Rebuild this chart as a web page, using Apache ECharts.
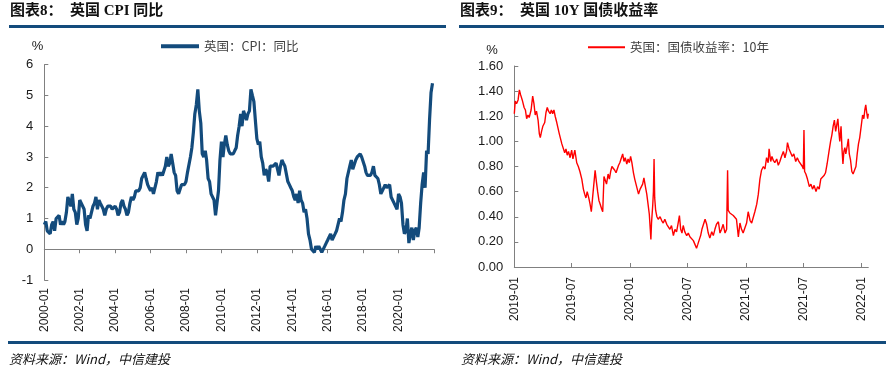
<!DOCTYPE html>
<html><head><meta charset="utf-8">
<script src="https://cdn.jsdelivr.net/npm/echarts@6/dist/echarts.min.js"></script>
<style>html,body{margin:0;padding:0;background:#fff}#c{width:893px;height:369px}</style>
</head><body><div id="c"></div>
<script>
// ---- Data: UK CPI YoY (%), monthly from 2000-01 ----
const cpiStart = [2000, 1];
const cpiValues = [
 0.8,0.9,0.6,0.6,0.5,0.8,0.9,0.6,1.0,1.0,1.1,0.8,
 0.9,0.8,0.9,1.2,1.7,1.7,1.4,1.8,1.3,1.2,0.8,1.0,
 1.6,1.5,1.5,1.3,0.8,0.6,1.1,1.0,1.0,1.4,1.5,1.7,
 1.3,1.6,1.5,1.4,1.3,1.1,1.3,1.4,1.4,1.4,1.3,1.3,
 1.4,1.3,1.1,1.2,1.5,1.6,1.4,1.3,1.1,1.2,1.5,1.7,
 1.6,1.7,1.9,1.9,1.9,2.0,2.3,2.4,2.5,2.3,2.1,2.0,
 1.9,2.0,1.8,2.0,2.2,2.5,2.4,2.5,2.4,2.4,2.7,3.0,
 2.7,2.8,3.1,2.8,2.5,2.4,1.9,1.8,1.8,2.1,2.1,2.1,
 2.2,2.5,2.5,3.0,3.3,3.8,4.4,4.7,5.2,4.5,4.1,3.1,
 3.0,3.2,2.9,2.3,2.2,1.8,1.8,1.6,1.1,1.5,1.9,2.9,
 3.5,3.0,3.4,3.7,3.4,3.2,3.1,3.1,3.1,3.2,3.3,3.7,
 4.0,4.4,4.0,4.5,4.5,4.2,4.4,4.5,5.2,5.0,4.8,4.2,
 3.6,3.4,3.5,3.0,2.8,2.4,2.6,2.5,2.2,2.7,2.7,2.7,
 2.7,2.8,2.8,2.4,2.7,2.9,2.8,2.7,2.7,2.2,2.1,2.0,
 1.9,1.7,1.6,1.8,1.5,1.9,1.6,1.5,1.2,1.3,1.0,0.5,
 0.3,0.0,0.0,-0.1,0.1,0.0,0.1,0.0,-0.1,-0.1,0.1,0.2,
 0.3,0.3,0.5,0.3,0.3,0.5,0.6,0.6,1.0,0.9,1.2,1.6,
 1.8,2.3,2.3,2.7,2.9,2.6,2.6,2.9,3.0,3.0,3.1,3.0,
 3.0,2.7,2.5,2.4,2.4,2.4,2.5,2.7,2.4,2.4,2.3,2.1,
 1.8,1.9,1.9,2.1,2.0,2.0,2.1,1.7,1.7,1.5,1.5,1.3,
 1.8,1.7,1.5,0.8,0.5,0.6,1.0,0.2,0.5,0.7,0.3,0.6,
 0.7,0.4,0.7,1.5,2.1,2.5,2.0,3.2,3.1,4.2,5.1,5.4
];
const cpiAxisRange = ['2000-01', '2022-01'];
const cpiTickLabels = ['2000-01','2002-01','2004-01','2006-01','2008-01','2010-01','2012-01','2014-01','2016-01','2018-01','2020-01'];
const cpiTickMarks = ['2000-01','2002-01','2004-01','2006-01','2008-01','2010-01','2012-01','2014-01','2016-01','2018-01','2020-01','2022-01'];

// ---- Data: UK 10Y gilt yield (%), dates as days after 2019-01-01 ----
const gyBase = [2019, 1, 1];
const gyDays = [0,3,7,12,16,20,25,31,35,39,43,47,53,58,62,66,70,75,79,82,86,90,96,100,104,108,113,117,121,125,129,134,138,142,146,150,155,159,163,167,171,176,181,185,188,191,197,202,207,213,218,222,226,230,235,239,243,247,251,255,259,263,267,271,276,279,283,287,291,296,300,304,308,312,317,321,325,329,333,338,342,346,350,355,359,363,367,371,376,380,384,388,392,397,401,405,409,413,418,422,426,429,431,433,437,439,441,443,446,450,454,
460,465,470,475,481,486,491,496,502,507,512,517,521,525,529,533,538,544,549,554,560,565,570,575,579,584,588,592,596,602,607,612,617,623,628,633,638,644,649,654,659,665,670,673,675,680,686,691,696,701,707,712,717,722,728,733,738,744,749,754,759,765,770,775,780,786,791,796,801,804,809,813,817,822,828,833,838,843,849,854,859,862,867,872,877,882,888,893,898,903,909,912,914,916,920,925,931,936,941,946,952,957,962,967,973,978,982,987,993,998,1002,1006,1010,1014,1018,1021,1024,1027,1031,1034,1037,1040,1043,1046,1051,1054,1057,1061,1065,1069,1074,1078,1082,1086,1090,1095,1099,1103,1106,1109,1112,1115,1117];
const gyValues = [1.22,1.32,1.30,1.33,1.41,1.37,1.33,1.27,1.25,1.18,1.21,1.19,1.25,1.36,1.30,1.21,1.24,1.17,1.06,1.03,1.08,1.12,1.15,1.23,1.27,1.24,1.22,1.25,1.22,1.25,1.20,1.15,1.14,1.06,1.02,0.98,0.97,0.91,0.94,0.89,0.92,0.87,0.93,0.86,0.85,0.93,0.83,0.80,0.76,0.70,0.62,0.58,0.55,0.60,0.55,0.50,0.44,0.55,0.66,0.77,0.68,0.60,0.53,0.50,0.46,0.44,0.72,0.72,0.66,0.74,0.70,0.76,0.80,0.81,0.77,0.75,0.78,0.81,0.83,0.87,0.90,0.84,0.87,0.82,0.86,0.83,0.88,0.83,0.75,0.70,0.70,0.62,0.58,0.62,0.64,0.66,0.71,0.65,0.58,0.50,0.42,0.30,0.22,0.35,0.50,0.60,0.86,0.55,0.45,0.40,0.38,
0.40,0.37,0.35,0.38,0.34,0.32,0.30,0.33,0.25,0.30,0.28,0.35,0.41,0.30,0.27,0.33,0.28,0.25,0.27,0.24,0.25,0.21,0.18,0.15,0.18,0.22,0.25,0.30,0.31,0.38,0.34,0.27,0.23,0.28,0.25,0.30,0.34,0.36,0.27,0.30,0.34,0.27,0.30,0.77,0.45,0.43,0.42,0.41,0.40,0.38,0.24,0.35,0.30,0.27,0.26,0.35,0.44,0.37,0.35,0.36,0.44,0.50,0.58,0.70,0.77,0.80,0.78,0.87,0.83,0.94,0.84,0.88,0.85,0.83,0.86,0.81,0.84,0.88,0.92,0.87,0.92,0.99,0.94,0.91,0.88,0.90,0.84,0.87,0.84,0.85,0.80,0.78,1.09,0.76,0.74,0.70,0.64,0.66,0.62,0.65,0.60,0.64,0.62,0.70,0.70,0.73,0.75,0.82,0.92,1.00,1.05,1.12,1.17,1.08,1.14,1.18,1.08,1.00,1.12,0.94,0.82,0.92,0.95,0.90,0.97,1.02,0.90,0.85,0.76,0.74,0.74,0.80,0.90,0.98,1.03,1.13,1.21,1.18,1.25,1.29,1.23,1.18,1.22];
const gyAxisRange = ['2019-01-01', '2022-01-22'];
const gyTickLabels = ['2019-01','2019-07','2020-01','2020-07','2021-01','2021-07','2022-01'];

// ---- helpers ----
function ym(s){ const p = s.split('-').map(Number); return new Date(p[0], p[1]-1, p[2]||1).getTime(); }
function fmtYM(v){ const d = new Date(v); return d.getFullYear() + '-' + String(d.getMonth()+1).padStart(2,'0'); }
const cpiData = cpiValues.map((v,i)=>[new Date(cpiStart[0], cpiStart[1]-1+i, 1).getTime(), v]);
const gyData = gyValues.map((v,i)=>[new Date(gyBase[0], gyBase[1]-1, gyBase[2]+gyDays[i]).getTime(), v]);

const AX = '#808080', LBL = '#1a1a1a', BLUE = '#134b7c';
const sans = "'Liberation Sans', Arial, 'Noto Sans CJK SC', sans-serif";
const cjk = "'Noto Sans CJK SC', 'Liberation Sans', sans-serif";
const serif = "'Liberation Serif', 'Noto Sans CJK SC', serif";

const chart = echarts.init(document.getElementById('c'), null, {renderer:'canvas'});
chart.setOption({
  animation: false,
  backgroundColor: '#fff',
  grid: [
    {left: 44.3, top: 64.7, width: 389.7, height: 215.3},
    {left: 514.3, top: 66, width: 354, height: 201}
  ],
  legend: [
    {data: ['英国：CPI：同比'], left: 156, top: 35, icon: 'rect', itemWidth: 38, itemHeight: 4, itemGap: 4,
     textStyle: {fontFamily: cjk, fontSize: 12.5, color: '#404040'}},
    {data: ['英国：国债收益率：10年'], left: 583, top: 36, icon: 'rect', itemWidth: 37, itemHeight: 2, itemGap: 4,
     textStyle: {fontFamily: cjk, fontSize: 12.5, color: '#404040'}}
  ],
  xAxis: [
    {type: 'value', gridIndex: 0, min: ym(cpiAxisRange[0]), max: ym(cpiAxisRange[1]),
     axisLine: {show: false, onZero: false}, axisTick: {show: false}, splitLine: {show: false},
     axisLabel: {rotate: 90, margin: 8, fontSize: 12, fontFamily: sans, color: LBL,
       customValues: cpiTickLabels.map(ym), formatter: fmtYM, showMinLabel: true, showMaxLabel: true}},
    {type: 'value', gridIndex: 0, min: ym(cpiAxisRange[0]), max: ym(cpiAxisRange[1]),
     axisLine: {show: true, onZero: true, lineStyle: {color: AX, width: 1}},
     axisTick: {show: true, inside: true, length: 4, lineStyle: {color: AX}, customValues: cpiTickMarks.map(ym)},
     axisLabel: {show: false}, splitLine: {show: false}},
    {type: 'value', gridIndex: 1, min: ym(gyAxisRange[0]), max: ym(gyAxisRange[1]),
     axisLine: {show: true, onZero: false, lineStyle: {color: AX, width: 1}},
     axisTick: {show: true, inside: true, length: 4, lineStyle: {color: AX}, customValues: gyTickLabels.map(ym)},
     axisLabel: {rotate: 90, margin: 10, fontSize: 12, fontFamily: sans, color: LBL,
       customValues: gyTickLabels.map(ym), formatter: fmtYM},
     splitLine: {show: false}}
  ],
  yAxis: [
    {type: 'value', gridIndex: 0, min: -1, max: 6, interval: 1,
     axisLine: {show: true, onZero: false, lineStyle: {color: AX}},
     axisTick: {show: true, inside: true, length: 4, lineStyle: {color: AX}},
     axisLabel: {margin: 11, fontSize: 13, fontFamily: sans, color: LBL},
     splitLine: {show: false}},
    {type: 'value', gridIndex: 1, min: 0, max: 1.6, interval: 0.2,
     axisLine: {show: true, onZero: false, lineStyle: {color: AX}},
     axisTick: {show: true, inside: true, length: 4, lineStyle: {color: AX}},
     axisLabel: {margin: 11, fontSize: 13, fontFamily: sans, color: LBL, formatter: v => v.toFixed(2)},
     splitLine: {show: false}}
  ],
  series: [
    {name: '英国：CPI：同比', type: 'line', xAxisIndex: 0, yAxisIndex: 0, data: cpiData,
     symbol: 'none', lineStyle: {color: BLUE, width: 3.2}, itemStyle: {color: BLUE}},
    {name: '英国：国债收益率：10年', type: 'line', xAxisIndex: 2, yAxisIndex: 1, data: gyData,
     symbol: 'none', lineStyle: {color: '#ff0000', width: 1.4}, itemStyle: {color: '#ff0000'}}
  ],
  graphic: [
    {type: 'text', left: 10, top: 4, style: {text: '图表8：  英国 CPI 同比', font: "bold 15px " + serif, fill: '#111'}},
    {type: 'rect', shape: {x: 9, y: 25, width: 437, height: 3}, style: {fill: BLUE}},
    {type: 'text', left: 460, top: 4, style: {text: '图表9：  英国 10Y 国债收益率', font: "bold 15px " + serif, fill: '#111'}},
    {type: 'rect', shape: {x: 459, y: 25, width: 425, height: 3}, style: {fill: BLUE}},
    {type: 'text', x: 37.5, y: 46, style: {text: '%', font: "13px " + sans, fill: LBL, align: 'center', verticalAlign: 'middle'}},
    {type: 'text', x: 492, y: 50, style: {text: '%', font: "13px " + sans, fill: LBL, align: 'center', verticalAlign: 'middle'}},
    {type: 'rect', shape: {x: 8, y: 341, width: 878, height: 3}, style: {fill: BLUE}},
    {type: 'text', x: 9, y: 359, style: {text: '资料来源：Wind，中信建投', font: "italic 13px " + cjk, fill: '#111', verticalAlign: 'middle'}},
    {type: 'text', x: 461, y: 359, style: {text: '资料来源：Wind，中信建投', font: "italic 13px " + cjk, fill: '#111', verticalAlign: 'middle'}}
  ]
});
</script></body></html>
